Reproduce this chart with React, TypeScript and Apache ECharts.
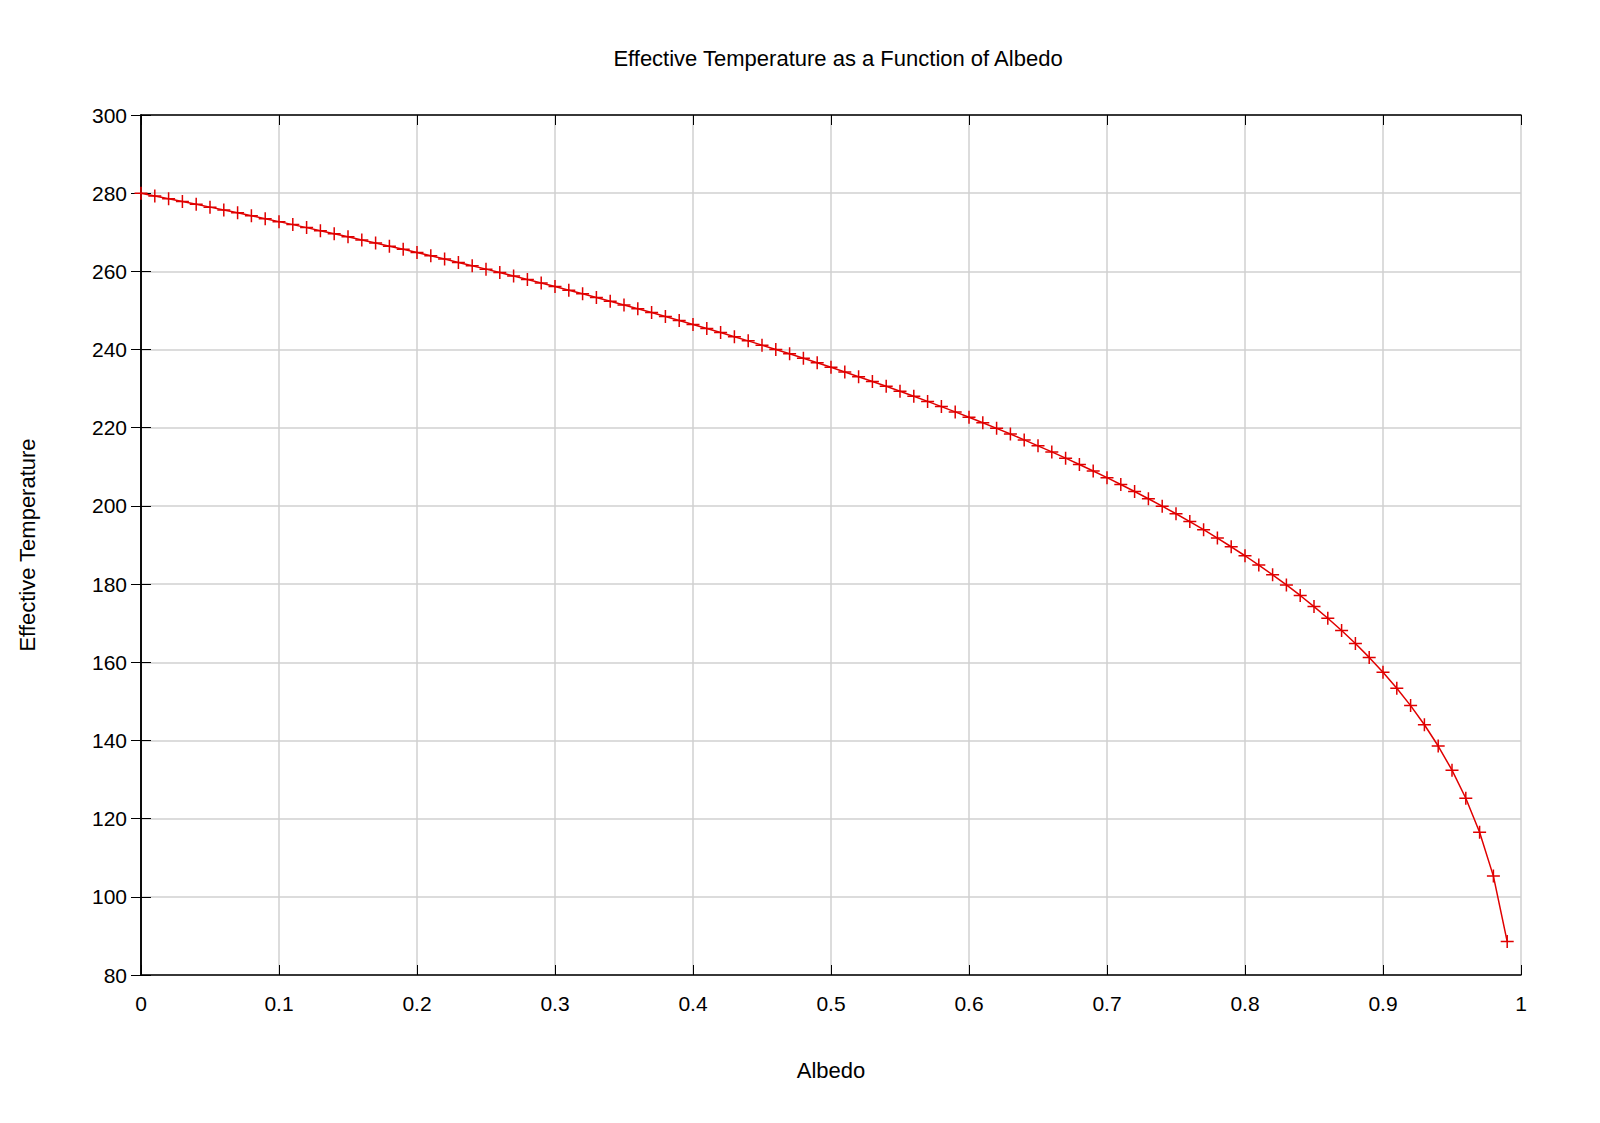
import React, { useEffect, useRef } from "react";
import * as echarts from "echarts";

const albedo: number[] = Array.from({ length: 100 }, (_, i) => i / 100);
const temperature: number[] = [
  280.0, 279.3, 278.59, 277.88, 277.16, 276.43, 275.7, 274.97, 274.22, 273.47,
  272.72, 271.96, 271.19, 270.41, 269.63, 268.85, 268.05, 267.25, 266.45, 265.63,
  264.81, 263.98, 263.14, 262.29, 261.43, 260.57, 259.7, 258.81, 257.92, 257.02,
  256.11, 255.19, 254.26, 253.32, 252.37, 251.41, 250.44, 249.46, 248.46, 247.45,
  246.43, 245.4, 244.35, 243.29, 242.22, 241.13, 240.03, 238.91, 237.77, 236.62,
  235.45, 234.26, 233.06, 231.84, 230.59, 229.33, 228.05, 226.74, 225.41, 224.05,
  222.68, 221.27, 219.84, 218.38, 216.89, 215.36, 213.81, 212.22, 210.59, 208.93,
  207.22, 205.47, 203.68, 201.84, 199.94, 197.99, 195.98, 193.91, 191.76, 189.55,
  187.25, 184.86, 182.38, 179.79, 177.09, 174.25, 171.27, 168.13, 164.8, 161.25,
  157.46, 153.36, 148.91, 144.02, 138.58, 132.4, 125.22, 116.53, 105.3, 88.54,
];

const font = "Liberation Sans, Arial, sans-serif";

export default function App() {
  const ref = useRef<HTMLDivElement>(null);
  useEffect(() => {
    const chart = echarts.init(ref.current!, undefined, { renderer: "svg" });
    const tick = { show: true, inside: true, length: 10, lineStyle: { color: "#000" } };
    const line = { show: true, lineStyle: { color: "#000", width: 1.5 } };
    const grid = { show: true, lineStyle: { color: "#d0d0d0", width: 1.5 } };
    const lbl = { color: "#000", fontSize: 21, fontFamily: font };
    chart.setOption({
      animation: false,
      backgroundColor: "#fff",
      title: {
        text: "Effective Temperature as a Function of Albedo",
        left: 833, top: 42, textAlign: "center",
        textStyle: { fontSize: 22, fontWeight: "normal", color: "#000", fontFamily: font },
      },
      grid: { left: 141, right: 79, top: 115, bottom: 148 },
      xAxis: [
        {
          type: "value", min: 0, max: 1, interval: 0.1,
          name: "Albedo", nameLocation: "middle", nameGap: 84,
          nameTextStyle: { ...lbl, fontSize: 22 },
          axisLine: line, axisTick: tick, splitLine: grid,
          axisLabel: { ...lbl, margin: 18 },
        },
        {
          type: "value", min: 0, max: 1, interval: 0.1, position: "top",
          axisLine: line, axisTick: tick, splitLine: { show: false }, axisLabel: { show: false },
        },
      ],
      yAxis: [
        {
          type: "value", min: 80, max: 300, interval: 20,
          name: "Effective Temperature", nameLocation: "middle", nameGap: 103,
          nameTextStyle: { ...lbl, fontSize: 22 },
          axisLine: line, axisTick: tick, splitLine: grid,
          axisLabel: { ...lbl, margin: 14 },
        },
        {
          type: "value", min: 80, max: 300, interval: 20, position: "right",
          axisLine: line, axisTick: tick, splitLine: { show: false }, axisLabel: { show: false },
        },
      ],
      series: [
        {
          type: "line",
          data: albedo.map((a, i) => [a, temperature[i]]),
          lineStyle: { color: "#e00000", width: 1.5 },
          symbol: "path://M0,5L10,5M5,0L5,10",
          symbolSize: 13,
          showAllSymbol: true,
          itemStyle: { color: "none", borderColor: "#e00000", borderWidth: 1.5 },
        },
      ],
    });
    return () => chart.dispose();
  }, []);
  return (
    <div ref={ref} style={{ position: "fixed", left: 0, top: 0, width: 1600, height: 1123 }} />
  );
}
